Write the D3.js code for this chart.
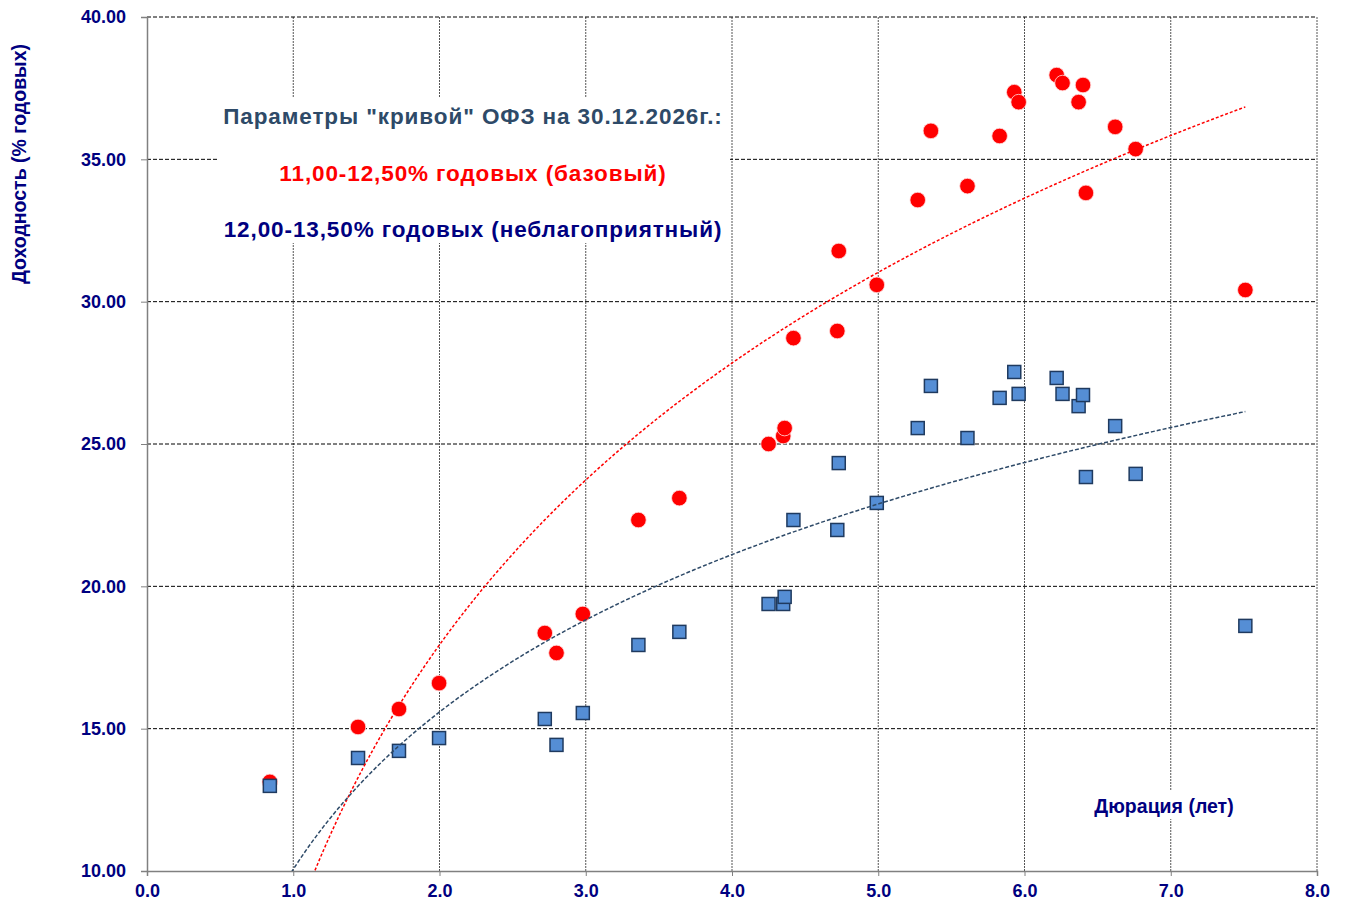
<!DOCTYPE html>
<html>
<head>
<meta charset="utf-8">
<script src="https://cdn.jsdelivr.net/npm/d3@7"></script>
<style>
  body { margin: 0; background: #fff; }
  text { font-family: "Liberation Sans", Arial, sans-serif; font-weight: bold; }
</style>
</head>
<body>
<svg></svg>
<script>
// data: duration (years) and yields for each scenario
const duration = [0.84,1.443,1.723,1.997,2.72,2.80,2.98,3.36,3.64,4.25,4.35,4.36,4.42,4.72,4.73,4.99,5.27,5.36,5.61,5.83,5.93,5.96,6.22,6.26,6.37,6.40,6.42,6.62,6.76,7.51];
const baseYield = [13.13,15.06,15.69,16.60,18.36,17.66,19.03,22.33,23.10,25.00,25.28,25.56,28.72,28.97,31.78,30.59,33.57,36.00,34.06,35.82,37.36,37.01,37.96,37.68,37.01,37.61,33.82,36.14,35.36,30.41];
const badYield = [12.99,13.97,14.22,14.67,15.34,14.43,15.55,17.94,18.40,19.38,19.38,19.63,22.33,21.98,24.33,22.93,25.56,27.04,25.21,26.62,27.53,26.76,27.32,26.76,26.33,26.72,23.84,25.63,23.95,18.61];
const xTicks = [0,1,2,3,4,5,6,7,8];
const yTicks = [10,15,20,25,30,35,40];
const boxLines = [
  "Параметры \"кривой\" ОФЗ на 30.12.2026г.:",
  "11,00-12,50% годовых (базовый)",
  "12,00-13,50% годовых (неблагоприятный)"
];

//setting
const W = 1346, H = 906;
const pLeft = 147, pRight = 1317, pTop = 17, pBottom = 871;
const svg = d3.select("svg").attr("width", W).attr("height", H);

const x = d3.scaleLinear().domain([0, 8]).range([pLeft, pRight]);
const y = d3.scaleLinear().domain([10, 40]).range([pBottom, pTop]);

svg.append("defs").append("clipPath").attr("id", "plot")
  .append("rect").attr("x", pLeft).attr("y", pTop).attr("width", pRight - pLeft).attr("height", pBottom - pTop);

// vertical grid (dotted)
svg.append("g")
  .selectAll("line")
  .data(xTicks.filter(d => d > 0))
  .join("line")
  .attr("x1", d => x(d)).attr("x2", d => x(d))
  .attr("y1", pTop).attr("y2", pBottom)
  .attr("stroke", "#555").attr("stroke-width", 1).attr("stroke-dasharray", "2,1");

// horizontal grid (dashed)
svg.append("g")
  .selectAll("line")
  .data(yTicks.filter(d => d > 10))
  .join("line")
  .attr("x1", pLeft).attr("x2", pRight)
  .attr("y1", d => y(d)).attr("y2", d => y(d))
  .attr("stroke", "#000").attr("stroke-width", 1).attr("stroke-dasharray", "4,2");

// axes
const yAxis = svg.append("g").attr("transform", `translate(${pLeft},0)`)
  .call(d3.axisLeft(y).tickValues(yTicks).tickSize(6).tickPadding(15).tickFormat(d3.format(".2f")));
const xAxis = svg.append("g").attr("transform", `translate(0,${pBottom})`)
  .call(d3.axisBottom(x).tickValues(xTicks).tickSize(5).tickPadding(8).tickFormat(d3.format(".1f")));
[xAxis, yAxis].forEach(a => {
  a.select(".domain").attr("stroke", "#808080").attr("stroke-width", 1.5);
  a.selectAll(".tick line").attr("stroke", "#808080");
  a.selectAll(".tick text").attr("fill", "#000080").style("font-size", "18px")
    .style("font-family", "'Liberation Sans', Arial, sans-serif").style("font-weight", "bold");
});

// annotation box
svg.append("rect").attr("x", 218).attr("y", 97).attr("width", 512).attr("height", 146).attr("fill", "#fff");
svg.append("g")
  .selectAll("text")
  .data(boxLines)
  .join("text")
  .text(d => d)
  .attr("x", 473)
  .attr("y", (d, i) => 124 + i * 56.5)
  .attr("text-anchor", "middle")
  .attr("fill", (d, i) => ["#2E4A68", "#FF0000", "#000080"][i])
  .style("font-size", "22.5px")
  .style("letter-spacing", "0.9px");

// axis titles
svg.append("text")
  .attr("transform", "translate(26,164) rotate(-90)")
  .attr("text-anchor", "middle")
  .attr("fill", "#000080")
  .style("font-size", "19.5px")
  .text("Доходность (% годовых)");

svg.append("rect").attr("x", 1088).attr("y", 791).attr("width", 152).attr("height", 28).attr("fill", "#fff");
svg.append("text")
  .attr("x", 1164).attr("y", 813)
  .attr("text-anchor", "middle")
  .attr("fill", "#000080")
  .style("font-size", "19.5px")
  .text("Дюрация (лет)");

// markers
const idx = d3.range(duration.length);
svg.append("g")
  .selectAll("circle")
  .data(idx)
  .join("circle")
  .attr("cx", i => x(duration[i]))
  .attr("cy", i => y(baseYield[i]))
  .attr("r", 7.8)
  .attr("fill", "#FF0000")
  .attr("stroke", "#ffdede").attr("stroke-width", 0.8);

svg.append("g")
  .selectAll("rect")
  .data(idx)
  .join("rect")
  .attr("x", i => x(duration[i]) - 6.5)
  .attr("y", i => y(badYield[i]) - 6.5)
  .attr("width", 13).attr("height", 13)
  .attr("fill", "#558ED5")
  .attr("stroke", "#1F3A5F").attr("stroke-width", 1.5);

// logarithmic trend lines (least squares on ln x, as in Excel)
function logFit(xs, ys) {
  const lx = xs.map(Math.log);
  const mx = d3.mean(lx), my = d3.mean(ys);
  const b = d3.sum(lx, (v, i) => (v - mx) * (ys[i] - my)) / d3.sum(lx, v => (v - mx) * (v - mx));
  return v => my + b * (Math.log(v) - mx);
}
const samples = d3.range(0, 201).map(k => d3.min(duration) + (d3.max(duration) - d3.min(duration)) * k / 200);
const line = f => d3.line().x(v => x(v)).y(v => y(f(v)))(samples);

const gTrend = svg.append("g").attr("clip-path", "url(#plot)");
gTrend.append("path")
  .attr("d", line(logFit(duration, baseYield)))
  .attr("fill", "none").attr("stroke", "#FF0000").attr("stroke-width", 1.5).attr("stroke-dasharray", "3,2");
gTrend.append("path")
  .attr("d", line(logFit(duration, badYield)))
  .attr("fill", "none").attr("stroke", "#2E4A68").attr("stroke-width", 1.5).attr("stroke-dasharray", "4,2");
</script>
</body>
</html>
